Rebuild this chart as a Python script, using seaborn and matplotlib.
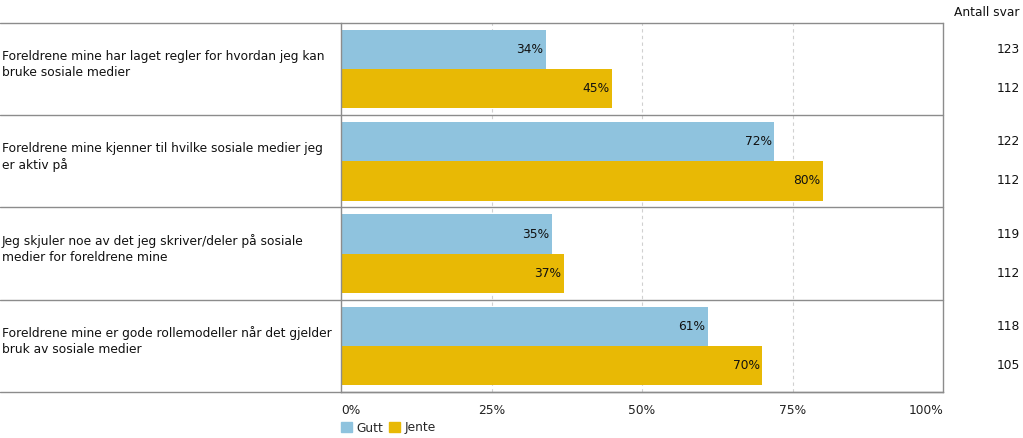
import pandas as pd
import numpy as np
import matplotlib.pyplot as plt
import seaborn as sns
from matplotlib.transforms import blended_transform_factory
from matplotlib.lines import Line2D
from matplotlib.patches import Patch

# DATA
statements = [
    "Foreldrene mine har laget regler for hvordan jeg kan\nbruke sosiale medier",
    "Foreldrene mine kjenner til hvilke sosiale medier jeg\ner aktiv på",
    "Jeg skjuler noe av det jeg skriver/deler på sosiale\nmedier for foreldrene mine",
    "Foreldrene mine er gode rollemodeller når det gjelder\nbruk av sosiale medier",
]
groups = ["Gutt", "Jente"]
gutt_pct = [34, 72, 35, 61]
jente_pct = [45, 80, 37, 70]
gutt_n = [123, 122, 119, 118]
jente_n = [112, 112, 112, 105]
x_ticks = [0, 25, 50, 75, 100]

colors = {"Gutt": "#8fc3de", "Jente": "#e8b905"}
line_grey = "#8c8c8c"

df = pd.DataFrame({
    "statement": statements * 2,
    "group": ["Gutt"] * 4 + ["Jente"] * 4,
    "pct": gutt_pct + jente_pct,
    "n": gutt_n + jente_n,
})

sns.set_style("white")
plt.rcParams["font.family"] = ["DejaVu Sans"]

W, H = 1023, 438
fig = plt.figure(figsize=(W / 100, H / 100), dpi=100)
ax = fig.add_axes([341 / W, (H - 392) / H, (943 - 341) / W, (392 - 23) / H])

sns.barplot(data=df, y="statement", x="pct", hue="group", orient="h",
            palette=colors, width=0.85, saturation=1, linewidth=0,
            ax=ax, legend=False)

ax.set_xlim(0, 100)
ax.set_ylim(3.5, -0.5)
ax.set_xlabel("")
ax.set_ylabel("")
ax.set_yticks([])
ax.set_xticks(x_ticks)
ax.set_xticklabels([f"{t}%" for t in x_ticks], fontsize=8.8, color="#222222")
labs = ax.get_xticklabels()
labs[0].set_ha("left")
labs[-1].set_ha("right")
ax.tick_params(axis="x", length=0, pad=9)
for t in x_ticks[1:-1]:
    ax.axvline(t, color="#d0d0d0", linestyle=(0, (3, 3)), linewidth=0.8, zorder=0)

ax.spines["top"].set_visible(False)
for side in ["left", "right", "bottom"]:
    ax.spines[side].set_color(line_grey)
    ax.spines[side].set_linewidth(1)

# value labels inside bar ends
for container in ax.containers:
    for bar, v in zip(container, container.datavalues):
        ax.annotate(f"{v:.0f}%", (bar.get_width(), bar.get_y() + bar.get_height() / 2),
                    xytext=(-2, 0), textcoords="offset points", ha="right",
                    va="center", fontsize=8.8, color="#111111")

# left table + separators
trans = blended_transform_factory(fig.transFigure, ax.transData)
for k in range(len(statements) + 1):
    y = k - 0.5
    fig.add_artist(Line2D([0, 943 / W], [y, y], transform=trans,
                          color=line_grey, linewidth=1))
for i, s in enumerate(statements):
    fig.text(2 / W, i - 0.05, s, transform=trans, ha="left", va="center",
             fontsize=8.8, color="#111111", linespacing=1.3)

# Antall svar column
fig.text(1020 / W, 1 - 12 / H, "Antall svar", ha="right", va="center",
         fontsize=8.8, color="#111111")
for container, ns in zip(ax.containers, [gutt_n, jente_n]):
    for bar, n in zip(container, ns):
        yc = bar.get_y() + bar.get_height() / 2
        fig.text(1020 / W, yc, str(n), transform=trans, ha="right",
                 va="center", fontsize=8.8, color="#111111")

handles = [Patch(color=colors[g], label=g) for g in groups]
fig.legend(handles=handles, loc="center left", bbox_to_anchor=(341 / W, 1 - 428 / H),
           ncol=2, frameon=False, fontsize=8.8, handlelength=0.9, handleheight=0.9,
           handletextpad=0.35, columnspacing=0.5, borderaxespad=0, borderpad=0)

fig.savefig("out.png", dpi=100)
